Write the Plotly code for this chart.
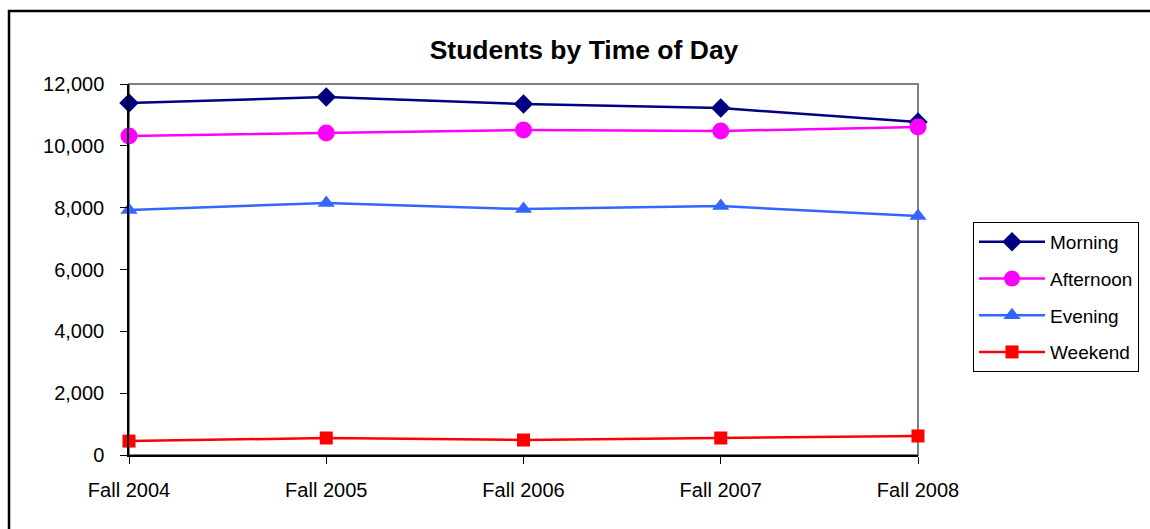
import plotly.graph_objects as go

categories = ["Fall 2004", "Fall 2005", "Fall 2006", "Fall 2007", "Fall 2008"]
morning = [11385, 11580, 11350, 11220, 10770]
afternoon = [10320, 10415, 10510, 10480, 10610]
evening = [7925, 8150, 7955, 8050, 7730]
weekend = [450, 550, 485, 550, 615]

series = [
    ("Morning", morning, "#000080", "diamond", 15),
    ("Afternoon", afternoon, "#FF00FF", "circle", 17),
    ("Evening", evening, "#3366FF", "triangle-up", 15),
    ("Weekend", weekend, "#FF0000", "square", 13),
]

W, H = 1150, 529
L, R, T, B = 129, 918, 84, 455
pw, ph = R - L, B - T

def px(x):
    return (x - L) / pw

def py(y):
    return (B - y) / ph

fig = go.Figure()
xs = list(range(len(categories)))
for i, (name, vals, color, sym, size) in enumerate(series):
    fig.add_trace(go.Scatter(
        x=xs, y=vals, name=name, mode="lines+markers",
        line=dict(color=color, width=2.5),
        marker=dict(symbol=sym, size=size, color=color),
        cliponaxis=False, legendgroup=f"g{i}",
    ))

font = "Liberation Sans, Arial, sans-serif"
fig.update_layout(
    width=W, height=H,
    margin=dict(l=L, r=W - R, t=T, b=H - B, pad=0, autoexpand=False),
    paper_bgcolor="white", plot_bgcolor="white",
    font=dict(family=font, size=20, color="black"),
    title=dict(text="<b>Students by Time of Day</b>", x=584 / W, xanchor="center",
               y=1 - 50 / H, yanchor="middle", font=dict(size=26.5, family=font)),
    showlegend=True,
    legend=dict(x=px(973), y=py(222), xanchor="left", yanchor="top",
                bordercolor="black", borderwidth=1, bgcolor="white",
                font=dict(size=19, family=font), tracegroupgap=9,
                itemwidth=66),
    xaxis=dict(range=[0, 4], tickmode="array", tickvals=xs, ticktext=categories,
               showgrid=False, zeroline=False, showline=True, linecolor="black",
               linewidth=1.5, ticks="outside", ticklen=7, tickcolor="black",
               tickfont=dict(size=20), ticklabelstandoff=9),
    yaxis=dict(range=[0, 12000], dtick=2000, tickformat=",", showgrid=False,
               zeroline=False, showline=True, linecolor="black", linewidth=1.5,
               ticks="outside", ticklen=7, tickcolor="black",
               tickfont=dict(size=20), ticklabelstandoff=12),
    shapes=[
        dict(type="rect", xref="paper", yref="paper", x0=0, x1=1, y0=0, y1=1,
             line=dict(color="#808080", width=2), layer="below"),
        dict(type="rect", xref="paper", yref="paper", x0=px(9), x1=px(1190),
             y0=py(580), y1=py(11), line=dict(color="black", width=2.5),
             layer="below"),
    ],
)

fig.write_html(
    "out.html",
    config={"displayModeBar": False},
    post_script="document.body.style.margin='0';document.body.style.overflow='hidden';",
)
